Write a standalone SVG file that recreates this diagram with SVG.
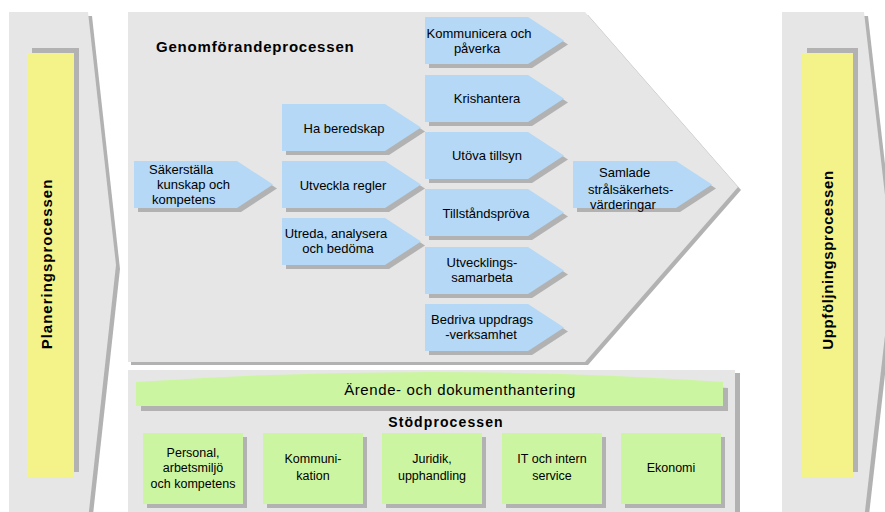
<svg xmlns="http://www.w3.org/2000/svg" xmlns:xlink="http://www.w3.org/1999/xlink" width="885" height="512" viewBox="0 0 885 512">
<style>
text{font-family:"Liberation Sans",Arial,sans-serif;fill:#000}
.t{font-size:13px;text-anchor:middle}
.ts{font-size:13px}
.g{font-size:12.5px;text-anchor:middle}
.panel{fill:#e6e6e6}
.sh{fill:#b2b2b2}
.bl{fill:#b4d8f5}
.gr{fill:#ccf5a2}
.ye{fill:#f3f38a}
.bold{font-weight:bold}
</style>
<defs>
<polygon id="arr" points="0,0 103,0 139,23.5 103,47 0,47"/>
<rect id="gbox" width="100" height="71"/>
</defs>
<rect width="885" height="512" fill="#fff"/>

<g id="planering">
<polygon class="sh" points="13,16 92,16 120,269 92,524 13,524"/>
<polygon class="panel" points="9,12 88,12 116,265 88,520 9,520"/>
<rect class="sh" x="32" y="48" width="47" height="424"/>
<rect class="ye" x="27" y="53" width="47" height="424"/>
<text class="bold" transform="translate(52,264) rotate(-90)" text-anchor="middle" font-size="15" letter-spacing="1">Planeringsprocessen</text>
</g>

<g id="uppfoljning">
<polygon class="sh" points="786,16 868,16 897,269 868,524 786,524"/>
<polygon class="panel" points="782,12 864,12 893,265 864,520 782,520"/>
<rect class="sh" x="807" y="48" width="51" height="424"/>
<rect class="ye" x="802" y="53" width="51" height="424"/>
<text class="bold" transform="translate(833,260) rotate(-90)" text-anchor="middle" font-size="15" letter-spacing="0.6">Uppföljningsprocessen</text>
</g>

<g id="genomforande">
<polygon class="sh" points="131,15 588,15 741,190 588,365 131,365"/>
<polygon class="panel" points="128,12 585,12 738,187 585,362 128,362"/>
<text class="bold" x="156" y="52" font-size="15" letter-spacing="0.8">Genomförandeprocessen</text>
</g>

<g id="sakerstalla">
<use xlink:href="#arr" class="sh" x="138" y="165"/>
<use xlink:href="#arr" class="bl" x="134" y="161"/>
<text class="ts" x="149" y="174">Säkerställa</text>
<text class="ts" x="157" y="189">kunskap och</text>
<text class="ts" x="152" y="204">kompetens</text>
</g>

<g id="beredskap">
<use xlink:href="#arr" class="sh" x="286" y="108"/>
<use xlink:href="#arr" class="bl" x="282" y="104"/>
<text class="t" x="344" y="133">Ha beredskap</text>
</g>

<g id="regler">
<use xlink:href="#arr" class="sh" x="286" y="165"/>
<use xlink:href="#arr" class="bl" x="282" y="161"/>
<text class="t" x="343" y="190">Utveckla regler</text>
</g>

<g id="utreda">
<use xlink:href="#arr" class="sh" x="286" y="222"/>
<use xlink:href="#arr" class="bl" x="282" y="218"/>
<text class="t" x="336" y="238">Utreda, analysera</text>
<text class="t" x="338" y="253">och bedöma</text>
</g>

<g id="kommunicera">
<use xlink:href="#arr" class="sh" x="429" y="21"/>
<use xlink:href="#arr" class="bl" x="425" y="17"/>
<text class="t" x="479" y="38">Kommunicera och</text>
<text class="t" x="477" y="53">påverka</text>
</g>

<g id="krishantera">
<use xlink:href="#arr" class="sh" x="429" y="79"/>
<use xlink:href="#arr" class="bl" x="425" y="75"/>
<text class="t" x="487" y="103">Krishantera</text>
</g>

<g id="tillsyn">
<use xlink:href="#arr" class="sh" x="429" y="136"/>
<use xlink:href="#arr" class="bl" x="425" y="132"/>
<text class="t" x="487" y="160">Utöva tillsyn</text>
</g>

<g id="tillstand">
<use xlink:href="#arr" class="sh" x="429" y="193"/>
<use xlink:href="#arr" class="bl" x="425" y="189"/>
<text class="t" x="486" y="218">Tillståndspröva</text>
</g>

<g id="utvecklingssamarbeta">
<use xlink:href="#arr" class="sh" x="429" y="251"/>
<use xlink:href="#arr" class="bl" x="425" y="247"/>
<text class="t" x="482" y="267">Utvecklings-</text>
<text class="t" x="482" y="282">samarbeta</text>
</g>

<g id="uppdrag">
<use xlink:href="#arr" class="sh" x="429" y="308"/>
<use xlink:href="#arr" class="bl" x="425" y="304"/>
<text class="t" x="482" y="324">Bedriva uppdrags</text>
<text class="t" x="481" y="339">-verksamhet</text>
</g>

<g id="samlade">
<use xlink:href="#arr" class="sh" x="577" y="165"/>
<use xlink:href="#arr" class="bl" x="573" y="161"/>
<text class="ts" x="599" y="177">Samlade</text>
<text class="ts" x="588" y="194">strålsäkerhets-</text>
<text class="ts" x="590" y="209">värderingar</text>
</g>

<g id="stodprocessen">
<rect class="sh" x="133" y="373" width="607" height="150"/>
<rect class="panel" x="128" y="370" width="607" height="150"/>
<text class="bold" x="446" y="427" text-anchor="middle" font-size="14" letter-spacing="1.1">Stödprocessen</text>
</g>

<g id="arende">
<path class="sh" d="M141,388 Q435,368 728,388 L728,411 L141,411 Z"/>
<path class="gr" d="M136,382 Q430,362 723,382 L723,406 L136,406 Z"/>
<text x="460" y="395" text-anchor="middle" font-size="15" letter-spacing="0.6">Ärende- och dokumenthantering</text>
</g>

<g id="personal">
<use xlink:href="#gbox" class="sh" x="147" y="437"/>
<use xlink:href="#gbox" class="gr" x="143" y="433"/>
<text class="g" x="193" y="457">Personal,</text>
<text class="g" x="193" y="472">arbetsmiljö</text>
<text class="g" x="193" y="488">och kompetens</text>
</g>

<g id="kommunikation">
<use xlink:href="#gbox" class="sh" x="267" y="437"/>
<use xlink:href="#gbox" class="gr" x="263" y="433"/>
<text class="g" x="313" y="463">Kommuni-</text>
<text class="g" x="313" y="480">kation</text>
</g>

<g id="juridik">
<use xlink:href="#gbox" class="sh" x="386" y="437"/>
<use xlink:href="#gbox" class="gr" x="382" y="433"/>
<text class="g" x="432" y="463">Juridik,</text>
<text class="g" x="432" y="480">upphandling</text>
</g>

<g id="it">
<use xlink:href="#gbox" class="sh" x="506" y="437"/>
<use xlink:href="#gbox" class="gr" x="502" y="433"/>
<text class="g" x="552" y="463">IT och intern</text>
<text class="g" x="552" y="480">service</text>
</g>

<g id="ekonomi">
<use xlink:href="#gbox" class="sh" x="625" y="437"/>
<use xlink:href="#gbox" class="gr" x="621" y="433"/>
<text class="g" x="671" y="472">Ekonomi</text>
</g>

<g id="connectors"/>
</svg>
